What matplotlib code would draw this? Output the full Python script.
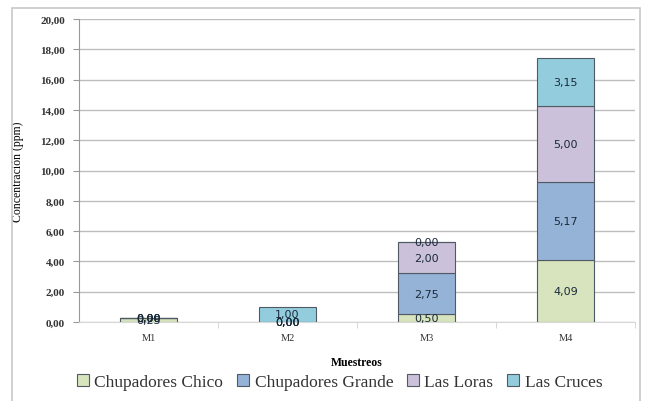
import matplotlib.pyplot as plt
import numpy as np
from matplotlib.patches import Rectangle

plt.rcParams['font.family'] = ['Liberation Serif', 'DejaVu Serif']

muestreos = ["M1", "M2", "M3", "M4"]
series = ["Chupadores Chico", "Chupadores Grande", "Las Loras", "Las Cruces"]
chico = [0.25, 0.00, 0.50, 4.09]
grande = [0.00, 0.00, 2.75, 5.17]
loras = [0.00, 0.00, 2.00, 5.00]
cruces = [0.00, 1.00, 0.00, 3.15]
colores = ["#D7E4BD", "#95B3D7", "#CCC1DA", "#93CDDD"]

fig = plt.figure(figsize=(6.47, 4.02), dpi=100)
# marco exterior del gráfico
fig.patches.append(Rectangle((12 / 647, -0.05), 628 / 647, 1.05 - 9 / 402,
                             transform=fig.transFigure, fill=False,
                             edgecolor="#c8c8c8", linewidth=1.2))
ax = fig.add_axes([79 / 647, 1 - 323 / 402, 556 / 647, 303 / 402])

x = np.arange(len(muestreos))
bottom = np.zeros(len(muestreos))
handles = []
for nombre, vals, col in zip(series, [chico, grande, loras, cruces], colores):
    vals = np.array(vals)
    b = ax.bar(x, vals, 0.41, bottom=bottom, color=col, edgecolor="#505a64",
               linewidth=0.8, label=nombre, zorder=3)
    handles.append(b)
    # etiquetas de valor centradas en cada segmento
    for xi, v, bt in zip(x, vals, bottom):
        ax.text(xi, bt + v / 2, f"{v:.2f}".replace(".", ","), ha="center",
                va="center", fontsize=8, color="#1a2a3a", zorder=4,
                family=["DejaVu Sans"])
    bottom += vals

ax.set_ylim(0, 20)
ax.set_xlim(-0.5, 3.5)
yt = np.arange(0, 20.1, 2)
ax.set_yticks(yt)
ax.set_yticklabels([f"{v:.2f}".replace(".", ",") for v in yt],
                   fontsize=8, fontweight="bold", color="#333333")
ax.set_xticks(x)
ax.set_xticklabels(muestreos, fontsize=7.5, color="#333333")
ax.tick_params(axis="x", length=0, pad=8)
ax.set_xticks([0.5, 1.5, 2.5, 3.5], minor=True)
ax.tick_params(axis="x", which="minor", length=4, color="#d0d0d0")
ax.tick_params(axis="y", length=4, color="#999999", pad=6)
ax.grid(axis="y", color="#bdbdbd", linewidth=1, zorder=0)
for s in ["top", "right"]:
    ax.spines[s].set_visible(False)
ax.spines["left"].set_color("#999999")
ax.spines["bottom"].set_color("#d8d8d8")

ax.set_xlabel("Muestreos", fontsize=8.5, fontweight="bold", labelpad=10)
ax.set_ylabel("Concentración (ppm)", fontsize=8.5, labelpad=12)

leg = fig.legend(handles=handles, labels=series, loc="center", ncol=4,
                 bbox_to_anchor=(0.525, 1 - 383 / 402), frameon=False,
                 fontsize=12.5, handlelength=0.7, handleheight=0.7,
                 handletextpad=0.3, columnspacing=0.8)
for t in leg.get_texts():
    t.set_color("#333333")

fig.savefig("out.png", dpi=100)
